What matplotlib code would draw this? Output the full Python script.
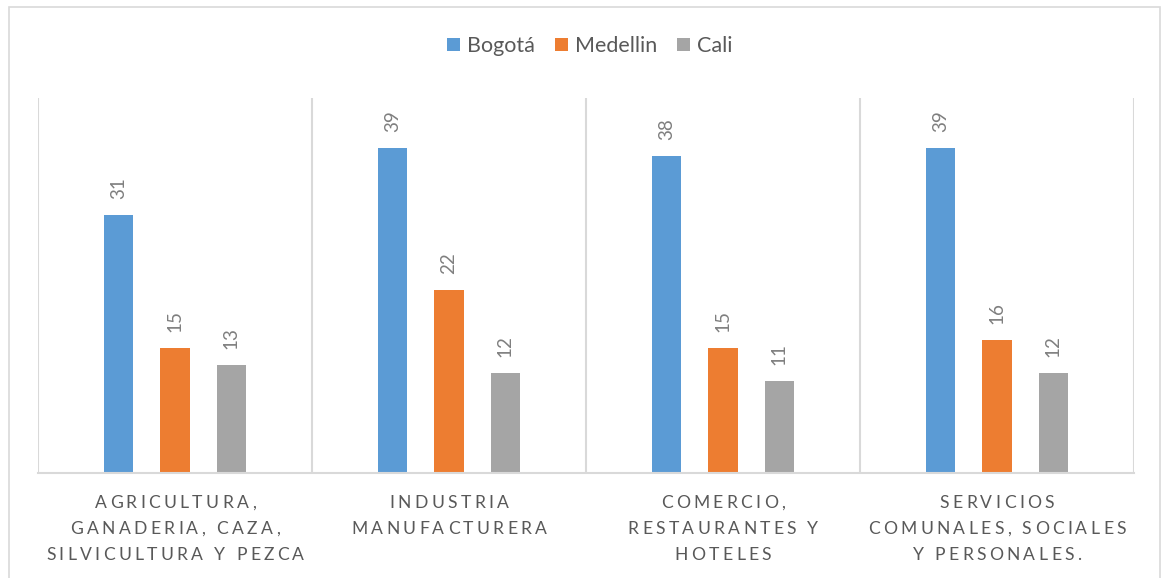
import matplotlib
matplotlib.use("Agg")
import matplotlib.pyplot as plt
from matplotlib.font_manager import FontProperties
from matplotlib.patches import Rectangle
import numpy as np

categories = [
    ["AGRICULTURA,", "GANADERIA, CAZA,", "SILVICULTURA Y PEZCA"],
    ["INDUSTRIA", "MANUFACTURERA"],
    ["COMERCIO,", "RESTAURANTES Y", "HOTELES"],
    ["SERVICIOS", "COMUNALES, SOCIALES", "Y PERSONALES."],
]
series_names = ["Bogotá", "Medellin", "Cali"]
bogota = [31, 39, 38, 39]
medellin = [15, 22, 15, 16]
cali = [13, 12, 11, 12]
series_values = [bogota, medellin, cali]
colors = ["#5B9BD5", "#ED7D31", "#A5A5A5"]

W, H, DPI = 1162, 578, 100
FONT = "Lato"
TXT = "#595959"
GRID = "#D9D9D9"

fig = plt.figure(figsize=(W / DPI, H / DPI), dpi=DPI)
fig.patch.set_facecolor("white")

# chart border (bottom edge falls outside the image)
fig.patches.append(Rectangle((9 / W, -0.05), (1160 - 9) / W, 1.05 - 7 / H,
                             transform=fig.transFigure, fill=False,
                             edgecolor=GRID, lw=1.2))

left, right, top, bottom = 38, 1134, 98, 473
ax = fig.add_axes([left / W, 1 - bottom / H, (right - left) / W, (bottom - top) / H])
ax.set_xlim(-0.5, len(bogota) - 0.5)
ax.set_ylim(0, 45)
for s in ["top", "left", "right"]:
    ax.spines[s].set_visible(False)
ax.spines["bottom"].set_color(GRID)
ax.spines["bottom"].set_linewidth(1.5)
ax.set_xticks([])
ax.set_yticks([])
for b in np.arange(-0.5, len(bogota), 1.0):
    ax.axvline(b, color=GRID, lw=1.5, zorder=0)

x = np.arange(len(bogota))
bw, step = 0.106, 0.205
for i, (vals, c, name) in enumerate(zip(series_values, colors, series_names)):
    xs = x + (i - 1) * step
    ax.bar(xs, vals, width=bw, color=c, label=name, zorder=2)
    for xi, v in zip(xs, vals):
        ax.annotate(str(v), (xi, v), xytext=(0, 11.5), textcoords="offset points",
                    rotation=90, ha="center", va="bottom", fontsize=13.5,
                    color="#7F7F7F", family=FONT)

leg = fig.legend(loc="center", bbox_to_anchor=(590 / W, 1 - 46 / H), ncol=3,
                 frameon=False, prop={"family": FONT, "size": 15.5},
                 handlelength=0.6, handleheight=0.6, handletextpad=0.33,
                 columnspacing=0.93, labelcolor=TXT)

# letter-spaced category labels
fig.canvas.draw()
renderer = fig.canvas.get_renderer()
prop = FontProperties(family=FONT, size=12.6)


def text_w(s):
    w, _, _ = renderer.get_text_width_height_descent(s, prop, ismath=False)
    return w


base = text_w("HH")


def advance(ch):
    return text_w("H" + ch + "H") - base


spacing = 3.3
baselines = [508, 534, 560]
for k, lines in enumerate(categories):
    cx = left + (k + 0.5) * (right - left) / len(categories)
    for j, line in enumerate(lines):
        adv = [advance(ch) for ch in line]
        total = sum(adv) + spacing * (len(line) - 1)
        px = cx - total / 2
        for ch, a in zip(line, adv):
            if ch != " ":
                fig.text(px / W, 1 - baselines[j] / H, ch, ha="left",
                         va="baseline", fontproperties=prop, color=TXT)
            px += a + spacing

fig.savefig("out.png", dpi=DPI, facecolor="white")
